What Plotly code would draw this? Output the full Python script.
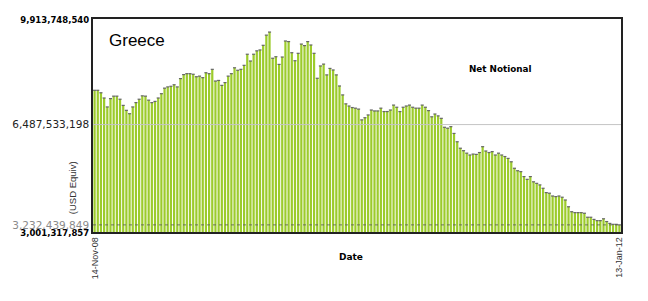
import pandas as pd
import plotly.graph_objects as go

# ---- data ----
start_date = "2008-11-14"
n_weeks = 166
dates = pd.date_range(start_date, periods=n_weeks, freq="7D")

# weekly net notional, in billions of USD equivalent
net_notional_bn = [
    7.60, 7.60, 7.52, 7.35, 7.06, 7.33, 7.41, 7.41, 7.31, 7.11,
    6.95, 6.84, 7.06, 7.20, 7.31, 7.42, 7.41, 7.28, 7.20, 7.24,
    7.35, 7.49, 7.67, 7.71, 7.73, 7.78, 7.71, 7.98, 8.11, 8.14,
    8.14, 8.12, 8.04, 8.06, 8.01, 8.17, 8.14, 8.28, 7.90, 7.92,
    7.76, 7.85, 8.06, 8.14, 8.33, 8.25, 8.28, 8.41, 8.77, 8.55,
    8.77, 8.88, 8.91, 9.06, 9.39, 9.49, 8.64, 8.69, 8.44, 8.68,
    9.20, 9.18, 8.82, 8.56, 8.80, 9.10, 9.05, 9.18, 9.07, 8.80,
    7.99, 8.39, 8.45, 8.10, 8.31, 8.26, 8.10, 7.74, 7.45, 7.16,
    7.09, 7.04, 7.02, 6.99, 6.64, 6.71, 6.80, 6.96, 6.93, 6.93,
    7.02, 6.91, 6.91, 6.96, 7.12, 7.05, 6.91, 7.05, 7.09, 7.12,
    7.05, 7.02, 7.02, 7.12, 7.05, 6.94, 6.74, 6.83, 6.77, 6.69,
    6.40, 6.37, 6.42, 6.20, 5.93, 5.72, 5.64, 5.56, 5.50, 5.53,
    5.52, 5.58, 5.77, 5.63, 5.58, 5.61, 5.50, 5.56, 5.50, 5.45,
    5.39, 5.28, 5.07, 4.99, 4.96, 4.80, 4.71, 4.80, 4.63, 4.58,
    4.53, 4.42, 4.28, 4.26, 4.17, 4.15, 4.17, 4.13, 4.04, 3.82,
    3.66, 3.63, 3.63, 3.63, 3.61, 3.48, 3.48, 3.41, 3.37, 3.37,
    3.43, 3.34, 3.28, 3.25, 3.25, 3.232439849,
]
values = [v * 1e9 for v in net_notional_bn]

axis_min = 3001317857
axis_max = 9913748540
mid_value = 6487533198
last_value = 3232439849

y_tick_vals = [axis_min, last_value, mid_value, axis_max]
y_tick_text = [
    "<span style='font-size:8.5px;color:#000'><b>3,001,317,857</b></span>",
    "<span style='color:#8a8a8a'>3,232,439,849</span>",
    "6,487,533,198",
    "<span style='font-size:8.5px;color:#000'><b>9,913,748,540</b></span>",
]
x_tick_text = ["14-Nov-08", "13-Jan-12"]

title_text = "Greece"
series_label = "Net Notional"
x_title = "Date"
y_title = "(USD Equiv)"

# ---- figure ----
fig = go.Figure()
fig.add_trace(go.Bar(
    x=dates, y=values,
    marker=dict(color="#9CCB2C", line=dict(width=0)),
    hoverinfo="skip",
))
fig.add_trace(go.Scatter(
    x=dates, y=values, mode="markers",
    marker=dict(symbol="line-ew", size=2.2, line=dict(color="#666666", width=1.2)),
    hoverinfo="skip",
))

half = pd.Timedelta(days=3.5)
fig.update_layout(
    width=648, height=301,
    margin=dict(l=88, r=27, t=19, b=69),
    paper_bgcolor="white", plot_bgcolor="white",
    showlegend=False,
    bargap=0.3,
    font=dict(family="Liberation Sans, Arial, sans-serif", color="#222"),
)
fig.update_xaxes(
    range=[dates[0] - half, dates[-1] + half],
    tickvals=[dates[0], dates[-1]], ticktext=x_tick_text,
    tickangle=-90, tickfont=dict(size=9, color="#333"),
    ticks="", showgrid=False, zeroline=False,
    showline=True, mirror=True, linecolor="#222", linewidth=1.5,
)
fig.update_yaxes(
    range=[axis_min, axis_max],
    tickvals=y_tick_vals, ticktext=y_tick_text,
    tickfont=dict(family="DejaVu Sans, Verdana, sans-serif", size=10.5, color="#222"),
    ticks="", showgrid=False, zeroline=False,
    showline=True, mirror=True, linecolor="#222", linewidth=1.5,
)
# reference lines
fig.add_hline(y=mid_value, line=dict(color="#c4c4c4", width=1), layer="above")
fig.add_hline(y=last_value, line=dict(color="#555", width=0.8, dash="dot"), layer="above")

fig.add_annotation(text=title_text, xref="paper", yref="paper",
                   x=(102 - 88) / 533, y=(232 - 40) / 213, xanchor="left", yanchor="middle",
                   showarrow=False, font=dict(family="Liberation Sans, Arial", size=17, color="#000"))
fig.add_annotation(text="<b>" + series_label + "</b>", xref="paper", yref="paper",
                   x=(499 - 88) / 533, y=(232 - 69) / 213, xanchor="center", yanchor="middle",
                   showarrow=False, font=dict(family="DejaVu Sans, Verdana", size=8.8, color="#000"))
fig.add_annotation(text="<b>" + x_title + "</b>", xref="paper", yref="paper",
                   x=(348 - 88) / 533, y=(232 - 257) / 213, xanchor="center", yanchor="middle",
                   showarrow=False, font=dict(family="DejaVu Sans, Verdana", size=9, color="#000"))
fig.add_annotation(text=y_title, xref="paper", yref="paper", textangle=-90,
                   x=(67 - 88) / 533, y=(232 - 188) / 213, xanchor="center", yanchor="middle",
                   showarrow=False, font=dict(family="Liberation Sans, Arial", size=9.5, color="#333"))

fig.write_html("out.html")
